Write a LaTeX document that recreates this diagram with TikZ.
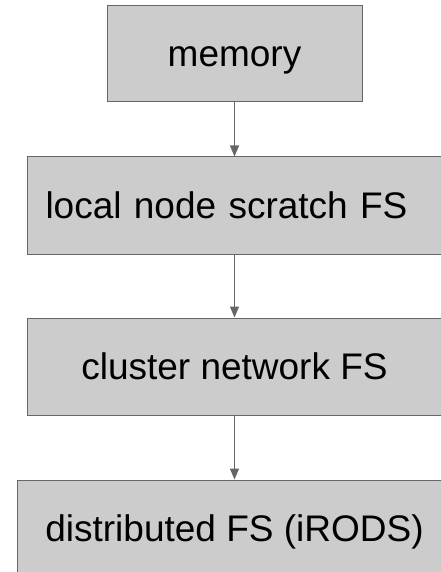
\documentclass[tikz,border=0pt]{standalone}
\usepackage{fontspec}
\setmainfont{Liberation Sans}
\usepackage{tikz}
\usetikzlibrary{arrows.meta,positioning}
\definecolor{boxfill}{HTML}{CCCCCC}
\definecolor{boxline}{HTML}{666666}
\tikzset{
  tier/.style={draw=boxline, fill=boxfill, line width=1pt, minimum height=97pt, inner sep=0pt, text height=34pt, text depth=8pt, align=center, font=\fontsize{37}{44}\selectfont},
  ar/.style={-{Triangle[length=11pt, width=9pt]}, line width=1.3pt, draw=boxline},
}
\begin{document}
\begin{tikzpicture}
        \useasboundingbox (0,0) rectangle (440pt,-572pt);
        \node[tier, minimum width=255pt, minimum height=96pt] (mem) at (234.5pt,-54pt) {memory};
        \node[tier, below=54pt of mem, text width=378pt, inner xsep=18pt, align=left] (scr) {local node scratch FS};
        \node[tier, below=63pt of scr, minimum width=414pt] (net) {cluster network FS};
        \node[tier, below=64pt of net, minimum width=434pt] (dfs) {distributed FS (iRODS)};
        \draw[ar] (mem)--(scr); \draw[ar] (scr)--(net); \draw[ar] (net)--(dfs);
      \end{tikzpicture}
\end{document}
